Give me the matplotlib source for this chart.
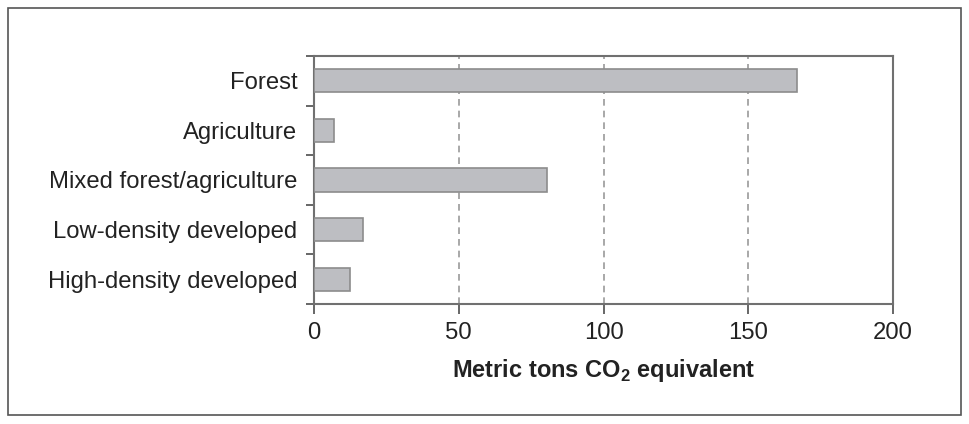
import matplotlib
matplotlib.use("Agg")
import matplotlib.pyplot as plt
from matplotlib.patches import Rectangle
import numpy as np

# land-use categories, top to bottom
categories = ["Forest", "Agriculture", "Mixed forest/agriculture",
              "Low-density developed", "High-density developed"]
values = [167, 7, 80.5, 17, 12.4]
xticks = [0, 50, 100, 150, 200]

plt.rcParams["font.family"] = ["Liberation Sans", "DejaVu Sans"]
plt.rcParams["mathtext.fontset"] = "custom"
plt.rcParams["mathtext.rm"] = "Liberation Sans"
plt.rcParams["mathtext.bf"] = "Liberation Sans:bold"

fig = plt.figure(figsize=(9.69, 4.24), dpi=100)
# outer frame
fig.patches.append(Rectangle((8 / 969, 1 - 415 / 424), 953 / 969, 407 / 424,
                             transform=fig.transFigure, fill=False,
                             edgecolor="#555555", linewidth=1.2))

ax = fig.add_axes([314 / 969, 1 - 304 / 424, 579 / 969, 248 / 424])

ypos = np.arange(len(categories))
ax.barh(ypos, values, height=0.47, color="#bdbec2", edgecolor="#8c8c8c",
        linewidth=1.2, zorder=3)

ax.set_xlim(0, 200)
ax.set_ylim(len(categories) - 0.5, -0.5)
ax.set_xticks(xticks)
ax.set_xticklabels([str(t) for t in xticks])

# category labels without ticks; ticks between categories
ax.set_yticks(ypos)
ax.set_yticklabels(categories)
ax.tick_params(axis="y", which="major", length=0, pad=12)
ax.set_yticks(np.arange(-0.5, len(categories)), minor=True)
ax.tick_params(axis="y", which="minor", length=6, width=1.4, color="#666666")
ax.tick_params(axis="x", length=7, width=1.4, color="#666666", pad=6)
ax.tick_params(labelsize=17.2, labelcolor="#222222")

for x in xticks[1:-1]:
    ax.axvline(x, color="#9a9a9a", linestyle=(0, (4, 3)), linewidth=1.2, zorder=1)

for s in ax.spines.values():
    s.set_color("#707070")
    s.set_linewidth(1.5)

ax.set_xlabel(r"Metric tons CO$_{\mathbf{2}}$ equivalent", fontsize=17,
              fontweight="bold", color="#222222", labelpad=9)

fig.savefig("out.png", dpi=100)
